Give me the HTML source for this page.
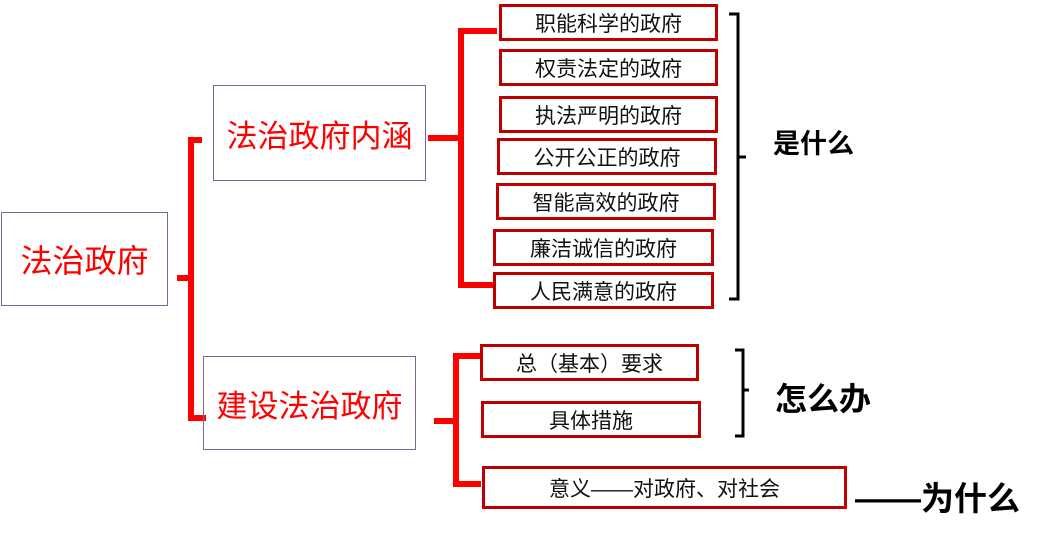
<!DOCTYPE html>
<html><head><meta charset="utf-8"><style>
body{margin:0;width:1063px;height:533px;background:#fff;position:relative;overflow:hidden;font-family:"Liberation Sans","Noto Sans CJK SC",sans-serif}
.b{position:absolute;box-sizing:border-box;display:flex;align-items:center;justify-content:center;white-space:nowrap}
.p{border:1px solid #8064a2;color:#f00;font-size:32px}
.r{border:3px solid #c00000;color:#111;font-size:21px}
.t{position:absolute;font-weight:bold;color:#000;white-space:nowrap}
</style></head><body>
<svg width="1063" height="533" style="position:absolute;left:0;top:0">
<g stroke="#f00" stroke-width="6" fill="none">
<polyline points="202,140 191,140 191,418 206,418"/>
<line x1="177" y1="278" x2="191" y2="278"/>
<polyline points="497,31 461,31 461,285 494,285"/>
<line x1="428" y1="138" x2="461" y2="138"/>
<polyline points="480,356 456,356 456,484 481,484"/>
<line x1="434" y1="421" x2="456" y2="421"/>
</g>
<g stroke="#000" stroke-width="3" fill="none">
<path d="M729,14 H738 V157 H746 M738,157 V299 H729"/>
<path d="M735,350 H743 V390 H749 M743,390 V436 H735"/>
</g>
</svg>
<div class="b p" style="left:1px;top:212px;width:167px;height:94px">法治政府</div>
<div class="b p" style="left:213px;top:85px;width:213px;height:96px;font-size:31px">法治政府内涵</div>
<div class="b p" style="left:203px;top:356px;width:213px;height:94px;font-size:31px">建设法治政府</div>
<div class="b r" style="left:499px;top:4px;width:219px;height:37px">职能科学的政府</div>
<div class="b r" style="left:499px;top:49px;width:219px;height:37px">权责法定的政府</div>
<div class="b r" style="left:499px;top:96px;width:219px;height:37px">执法严明的政府</div>
<div class="b r" style="left:497px;top:138px;width:220px;height:37px">公开公正的政府</div>
<div class="b r" style="left:496px;top:183px;width:220px;height:37px">智能高效的政府</div>
<div class="b r" style="left:493px;top:229px;width:221px;height:37px">廉洁诚信的政府</div>
<div class="b r" style="left:493px;top:272px;width:221px;height:37px">人民满意的政府</div>
<div class="b r" style="left:480px;top:344px;width:219px;height:37px">总（基本）要求</div>
<div class="b r" style="left:481px;top:401px;width:220px;height:37px">具体措施</div>
<div class="b r" style="left:482px;top:466px;width:365px;height:43px">意义——对政府、对社会</div>
<div class="t" style="left:773px;top:122px;font-size:27px">是什么</div>
<div class="t" style="left:775px;top:374px;font-size:32px">怎么办</div>
<div class="t" style="left:855px;top:472px;font-size:33px">——为什么</div>
</body></html>
